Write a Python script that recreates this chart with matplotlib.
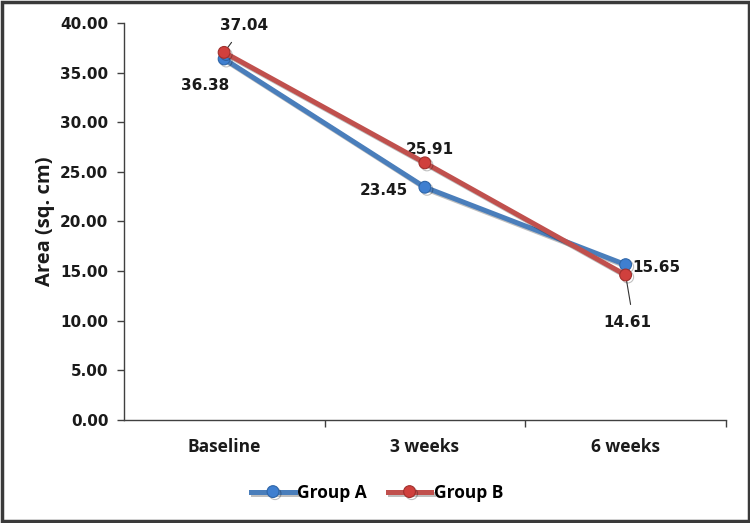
import matplotlib.pyplot as plt
import matplotlib.patheffects as pe
import numpy as np

categories = ['Baseline', '3 weeks', '6 weeks']
group_a = [36.38, 23.45, 15.65]
group_b = [37.04, 25.91, 14.61]
y_ticks = [0, 5, 10, 15, 20, 25, 30, 35, 40]

blue = '#4A7EBB'
red = '#C0504D'

fig = plt.figure(figsize=(7.5, 5.23), dpi=100)
ax = fig.add_axes([0.165, 0.197, 0.803, 0.759])

x = np.arange(len(categories))
shadow = [pe.SimpleLineShadow(offset=(1.5, -1.5), alpha=0.25), pe.Normal()]
ax.plot(x, group_a, color=blue, lw=3.6, marker='o', ms=8.5, mfc='#3F7FD0',
        mec='#2F66A8', mew=0.8, label='Group A', path_effects=shadow, zorder=3)
ax.plot(x, group_b, color=red, lw=3.6, marker='o', ms=8.5, mfc='#D0403D',
        mec='#A0302D', mew=0.8, label='Group B', path_effects=shadow, zorder=4)

lbl = dict(fontsize=11, fontweight='bold', color='#1a1a1a', family='DejaVu Sans',
           ha='center', va='center', textcoords='offset pixels')
line = dict(arrowstyle='-', color='#333333', lw=0.8, shrinkA=6, shrinkB=2)
# group A labels
ax.annotate(f'{group_a[0]:.2f}', (0, group_a[0]), xytext=(-19, -27), **lbl)
ax.annotate(f'{group_a[1]:.2f}', (1, group_a[1]), xytext=(-41, -3), **lbl)
ax.annotate(f'{group_a[2]:.2f}', (2, group_a[2]), xytext=(31, -3), **lbl)
# group B labels
ax.annotate(f'{group_b[0]:.2f}', (0, group_b[0]), xytext=(20, 27), arrowprops=line, **lbl)
ax.annotate(f'{group_b[1]:.2f}', (1, group_b[1]), xytext=(5, 13), **lbl)
ax.annotate(f'{group_b[2]:.2f}', (2, group_b[2]), xytext=(2, -48),
            arrowprops=dict(line, relpos=(0.6, 1.0)), **lbl)

ax.set_xlim(-0.5, 2.5)
ax.set_ylim(0, 40)
ax.set_yticks(y_ticks)
ax.set_yticklabels([f'{v:.2f}' for v in y_ticks], fontsize=11, fontweight='bold',
                   family='DejaVu Sans', color='#1a1a1a')
ax.set_xticks(x)
ax.set_xticklabels(categories, fontsize=12.5, fontweight='bold', family='Open Sans',
                   color='#1a1a1a')
ax.set_xticks([0.5, 1.5, 2.5], minor=True)
ax.tick_params(axis='x', which='major', length=0, pad=13)
ax.tick_params(axis='x', which='minor', length=5, width=1, color='#404040')
ax.tick_params(axis='y', length=5, width=1, color='#404040', pad=6)
for s in ['top', 'right']:
    ax.spines[s].set_visible(False)
for s in ['left', 'bottom']:
    ax.spines[s].set_color('#404040')
    ax.spines[s].set_linewidth(1)

ax.set_ylabel('Area (sq. cm)', fontsize=14.5, fontweight='bold', family='Open Sans',
              color='#1a1a1a', labelpad=4)

leg = fig.legend(loc='center', bbox_to_anchor=(0.503, 0.058), ncol=2, frameon=False,
                 prop={'family': 'Open Sans', 'weight': 'bold', 'size': 12.5},
                 handlelength=2.5, handletextpad=0.15, columnspacing=1.2)

fig.patches.append(plt.Rectangle((0.002, 0.003), 0.996, 0.994, transform=fig.transFigure,
                                 fill=False, edgecolor='#3a3a3a', lw=2.5))

fig.savefig('out.png', dpi=100)
